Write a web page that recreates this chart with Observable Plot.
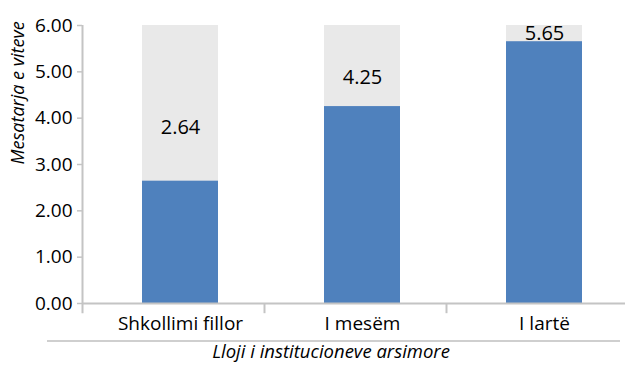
<!DOCTYPE html>
<html>
<head>
<meta charset="utf-8">
<script src="https://cdn.jsdelivr.net/npm/d3@7"></script>
<script src="https://cdn.jsdelivr.net/npm/@observablehq/plot@0.6"></script>
<style>
  html, body { margin: 0; padding: 0; background: #fff; }
</style>
</head>
<body>
<div id="chart"></div>
<script>
const categories = ["Shkollimi fillor", "I mesëm", "I lartë"];
const values = [2.64, 4.25, 5.65];
const yTicks = [0, 1, 2, 3, 4, 5, 6];
const yMax = 6;
const yTitle = "Mesatarja e viteve";
const xTitle = "Lloji i institucioneve arsimore";

const data = categories.map((c, i) => ({cat: c, value: values[i]}));
const axisColor = "#c4c4c4";

const underline = (index, scales, values, dims) => {
  const svg = d3.create("svg:g");
  const y = dims.height - dims.marginBottom + 38;
  svg.append("line")
    .attr("x1", dims.marginLeft - 35).attr("x2", dims.width - 5)
    .attr("y1", y).attr("y2", y)
    .attr("stroke", "#cfcfcf").attr("stroke-width", 2);
  return svg.node();
};

const chart = Plot.plot({
  width: 625,
  height: 367,
  marginLeft: 82,
  marginRight: 0,
  marginTop: 25,
  marginBottom: 64,
  style: {fontFamily: "'Open Sans', sans-serif", fontSize: "19px", color: "#000", background: "#fff", overflow: "visible"},
  x: {domain: categories, range: [82, 628], padding: 0, label: null},
  y: {domain: [0, yMax], label: null},
  marks: [
    Plot.barY(data, {x: "cat", y: () => yMax, fill: "#e9e9e9", insetLeft: 60, insetRight: 46}),
    Plot.barY(data, {x: "cat", y: "value", fill: "#4f81bd", insetLeft: 60, insetRight: 46}),
    Plot.text(data, {x: "cat", y: d => d.value + (yMax - d.value) * 0.33 + 0.05, text: d => d.value.toFixed(2), dx: 7, fontSize: 20, fill: "#000"}),
    Plot.ruleY([0], {stroke: axisColor, strokeWidth: 2}),
    Plot.ruleX([categories[0]], {dx: -91, y1: -0.22, y2: yMax, stroke: axisColor, strokeWidth: 2}),
    Plot.ruleX(categories.slice(1), {dx: -91, y1: -0.22, y2: 0, stroke: axisColor, strokeWidth: 2}),
    Plot.axisY({ticks: yTicks, tickFormat: d3.format(".2f"), tickSize: 5, tickPadding: 5, stroke: axisColor, strokeWidth: 1.5, label: null, fontSize: 19}),
    Plot.axisX({tickSize: 0, tickPadding: 13, dx: 7, label: null, fontSize: 19}),
    Plot.text([yTitle], {frameAnchor: "left", rotate: -90, dx: -64, fontStyle: "italic", fontSize: 18, fill: "#000"}),
    Plot.text([xTitle], {frameAnchor: "bottom", dy: 54, dx: -23, fontStyle: "italic", fontSize: 18.5, fill: "#000"}),
    underline
  ]
});
document.getElementById("chart").appendChild(chart);
</script>
</body>
</html>
